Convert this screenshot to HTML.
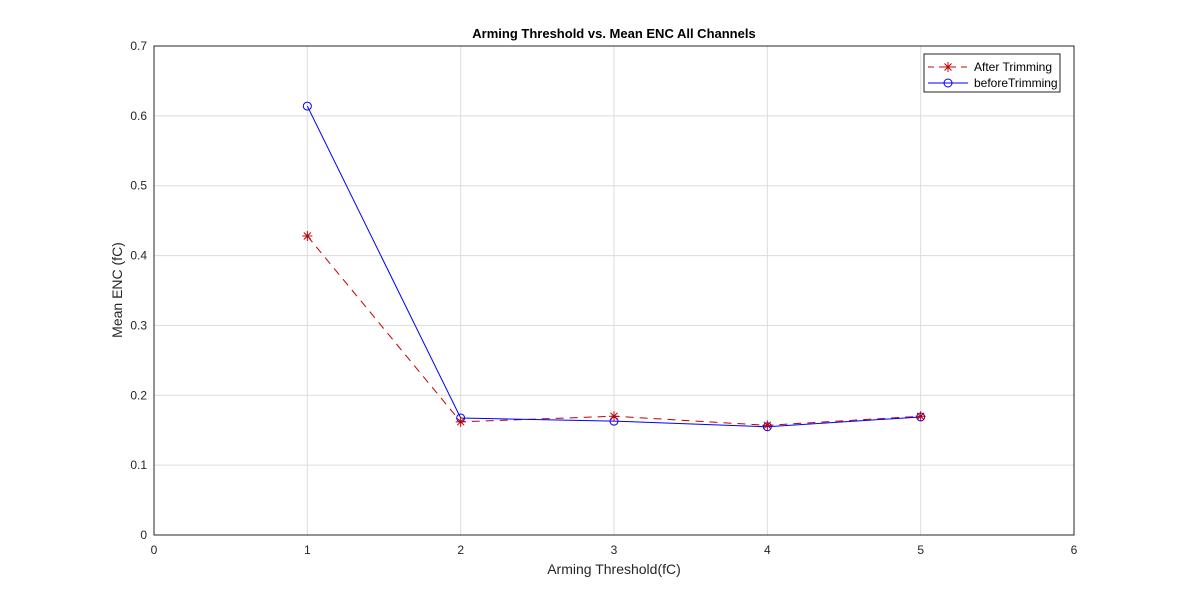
<!DOCTYPE html>
<html><head><meta charset="utf-8"><style>
body{margin:0;background:#fff;}
svg text{font-family:"Liberation Sans",Arial,sans-serif;}
</style></head><body>
<svg id="chart" width="1187" height="601" xmlns="http://www.w3.org/2000/svg">
<rect width="1187" height="601" fill="#ffffff"/>
<g id="grid"></g>
<rect x="154" y="46" width="920" height="489" fill="none" stroke="#262626" stroke-width="1"/>
<g id="ticks"></g>
<g id="series"></g>
<text x="614" y="38" text-anchor="middle" font-size="13" font-weight="bold" fill="#000">Arming Threshold vs. Mean ENC All Channels</text>
<text x="614" y="574" text-anchor="middle" font-size="14" fill="#262626">Arming Threshold(fC)</text>
<text x="122" y="290" text-anchor="middle" font-size="14" fill="#262626" transform="rotate(-90 122 290)">Mean ENC (fC)</text>
<g>
<rect x="924" y="54" width="136" height="38" fill="#fff" stroke="#262626" stroke-width="1"/>
<g>
<line x1="928" y1="67" x2="968" y2="67" stroke="#c00000" stroke-dasharray="6,5"/>
<path d="M943,67H953M948,62V72M944.5,63.5L951.5,70.5M944.5,70.5L951.5,63.5" stroke="#c00000" fill="none"/>
<text x="974" y="71" font-size="12" fill="#000">After Trimming</text>
</g>
<g>
<line x1="928" y1="83" x2="968" y2="83" stroke="#0000ff"/>
<circle cx="948" cy="83" r="4" fill="none" stroke="#0000ff"/>
<text x="974" y="87" font-size="12" fill="#000">beforeTrimming</text>
</g>
</g>
</svg>
<script>
const xValues=[1,2,3,4,5];
const afterTrimming=[0.428,0.162,0.170,0.157,0.170];
const beforeTrimming=[0.614,0.1675,0.163,0.155,0.169];
const xTicks=[0,1,2,3,4,5,6];
const yTicks=[0,0.1,0.2,0.3,0.4,0.5,0.6,0.7];
const NS='http://www.w3.org/2000/svg';
const X=v=>154+(v-0)/6*920;
const Y=v=>535-v/0.7*489;
function mk(tag,attrs,parent){const e=document.createElementNS(NS,tag);for(const k in attrs)e.setAttribute(k,attrs[k]);parent.appendChild(e);return e;}
const grid=document.getElementById('grid'),ticks=document.getElementById('ticks'),series=document.getElementById('series');
xTicks.forEach(t=>{
 const g=mk('line',{x1:X(t),x2:X(t),y1:46,y2:535,stroke:'#dcdcdc'},grid);
 
 
 const l=mk('text',{x:X(t),y:554,'text-anchor':'middle','font-size':12,fill:'#262626'},ticks);
 l.textContent=t;
 
 
});
yTicks.forEach(t=>{
 const g=mk('line',{x1:154,x2:1074,y1:Y(t),y2:Y(t),stroke:'#dcdcdc'},grid);
 
 
 const l=mk('text',{x:147,y:Y(t)+4,'text-anchor':'end','font-size':12,fill:'#262626'},ticks);
 l.textContent=(t===0?'0':t.toFixed(1));
 
 
});
function pts(vals){return vals.map((v,i)=>X(xValues[i])+','+Y(v)).join(' ');}
const la=mk('polyline',{points:pts(afterTrimming),fill:'none',stroke:'#c00000','stroke-dasharray':'8,6'},series);


const lb=mk('polyline',{points:pts(beforeTrimming),fill:'none',stroke:'#0000ff'},series);


beforeTrimming.forEach((v,i)=>{
 const c=mk('circle',{cx:X(xValues[i]),cy:Y(v),r:4,fill:'none',stroke:'#0000ff'},series);
 
 
});
afterTrimming.forEach((v,i)=>{
 const x=X(xValues[i]),y=Y(v);
 const d=`M${x-5},${y}H${x+5}M${x},${y-5}V${y+5}M${x-3.5},${y-3.5}L${x+3.5},${y+3.5}M${x-3.5},${y+3.5}L${x+3.5},${y-3.5}`;
 const p=mk('path',{d:d,stroke:'#c00000',fill:'none'},series);
 
 
});
</script>
</body></html>
